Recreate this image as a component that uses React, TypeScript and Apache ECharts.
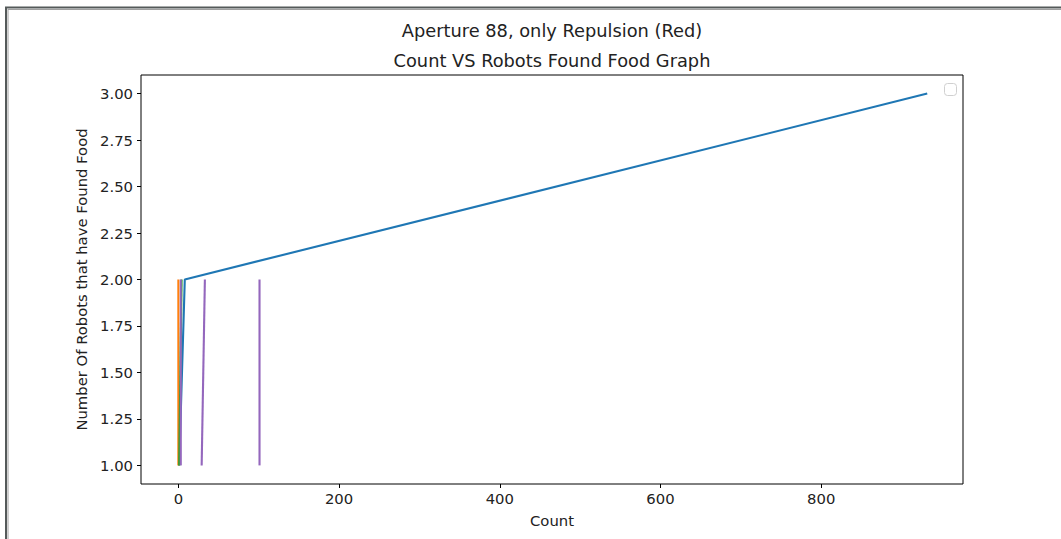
import React, { useEffect, useRef } from "react";
import * as echarts from "echarts";

const titleMain = "Aperture 88, only Repulsion (Red)";
const titleSub = "Count VS Robots Found Food Graph";
const xLabel = "Count";
const yLabel = "Number Of Robots that have Found Food";

const xTicks = [0, 200, 400, 600, 800];
const yTicks = [1.0, 1.25, 1.5, 1.75, 2.0, 2.25, 2.5, 2.75, 3.0];

const blueRun = [[1, 1], [8, 2], [932, 3]];
const orangeRun = [[0, 1], [0, 2]];
const greenRun = [[1, 1], [4, 2]];
const purpleRunA = [[3, 1], [3, 2]];
const purpleRunB = [[29, 1], [33, 2]];
const purpleRunC = [[101, 1], [101, 2]];

const runs = [
  { data: blueRun, color: "#1f77b4" },
  { data: orangeRun, color: "#ff7f0e" },
  { data: greenRun, color: "#2ca02c" },
  { data: purpleRunA, color: "#9467bd" },
  { data: purpleRunB, color: "#9467bd" },
  { data: purpleRunC, color: "#9467bd" },
];

const FONT = "DejaVu Sans";
const TICK_FS = 14.8;
const TITLE_FS = 17.8;

export default function App() {
  const ref = useRef<HTMLDivElement>(null);
  useEffect(() => {
    if (!ref.current) return;
    const chart = echarts.init(ref.current, null, { renderer: "svg" });
    chart.setOption({
      animation: false,
      backgroundColor: "#ffffff",
      textStyle: { fontFamily: FONT },
      grid: {
        left: 141,
        top: 75,
        width: 822,
        height: 409,
        show: true,
        borderColor: "#000000",
        borderWidth: 1,
        backgroundColor: "transparent",
      },
      xAxis: {
        type: "value",
        min: -46.5,
        max: 976.5,
        splitLine: { show: false },
        axisLine: { show: false, onZero: false },
        axisTick: {
          show: true,
          customValues: xTicks,
          length: 4,
          lineStyle: { color: "#000", width: 1 },
        },
        axisLabel: {
          customValues: xTicks,
          color: "#222",
          fontSize: TICK_FS,
          fontFamily: FONT,
          margin: 7,
        },
        name: xLabel,
        nameLocation: "middle",
        nameGap: 29,
        nameTextStyle: { color: "#222", fontSize: TICK_FS, fontFamily: FONT },
      },
      yAxis: {
        type: "value",
        min: 0.9,
        max: 3.1,
        splitLine: { show: false },
        axisLine: { show: false, onZero: false },
        axisTick: {
          show: true,
          customValues: yTicks,
          length: 4,
          lineStyle: { color: "#000", width: 1 },
        },
        axisLabel: {
          customValues: yTicks,
          color: "#222",
          fontSize: TICK_FS,
          fontFamily: FONT,
          margin: 8,
          formatter: (v: number) => v.toFixed(2),
        },
        name: yLabel,
        nameLocation: "middle",
        nameGap: 49,
        nameTextStyle: { color: "#222", fontSize: TICK_FS, fontFamily: FONT },
      },
      series: runs.map((r) => ({
        type: "line",
        data: r.data,
        showSymbol: false,
        symbol: "none",
        lineStyle: { color: r.color, width: 2.1 },
        itemStyle: { color: r.color },
        silent: true,
      })),
      graphic: [
        {
          type: "text",
          x: 552,
          y: 30,
          style: {
            text: titleMain,
            fontSize: TITLE_FS,
            fontFamily: FONT,
            fill: "#222",
            align: "center",
            verticalAlign: "middle",
          },
        },
        {
          type: "text",
          x: 552,
          y: 60,
          style: {
            text: titleSub,
            fontSize: TITLE_FS,
            fontFamily: FONT,
            fill: "#222",
            align: "center",
            verticalAlign: "middle",
          },
        },
        {
          type: "rect",
          shape: { x: 944.5, y: 83.5, width: 12, height: 12, r: 3 },
          style: { fill: "rgba(255,255,255,0.8)", stroke: "#d0d0d0", lineWidth: 1 },
        },
        {
          type: "line",
          shape: { x1: 5, y1: 7.5, x2: 1061, y2: 7.5 },
          style: { stroke: "#555a5a", lineWidth: 2 },
        },
        {
          type: "line",
          shape: { x1: 8, y1: 9.5, x2: 1061, y2: 9.5 },
          style: { stroke: "#a0a0a0", lineWidth: 1 },
        },
        {
          type: "line",
          shape: { x1: 6, y1: 7, x2: 6, y2: 539 },
          style: { stroke: "#555a5a", lineWidth: 2 },
        },
        {
          type: "line",
          shape: { x1: 8, y1: 9, x2: 8, y2: 539 },
          style: { stroke: "#a0a0a0", lineWidth: 1 },
        },
      ],
    });
    return () => chart.dispose();
  }, []);
  return (
    <div
      ref={ref}
      style={{ position: "absolute", left: 0, top: 0, width: 1061, height: 539 }}
    />
  );
}
